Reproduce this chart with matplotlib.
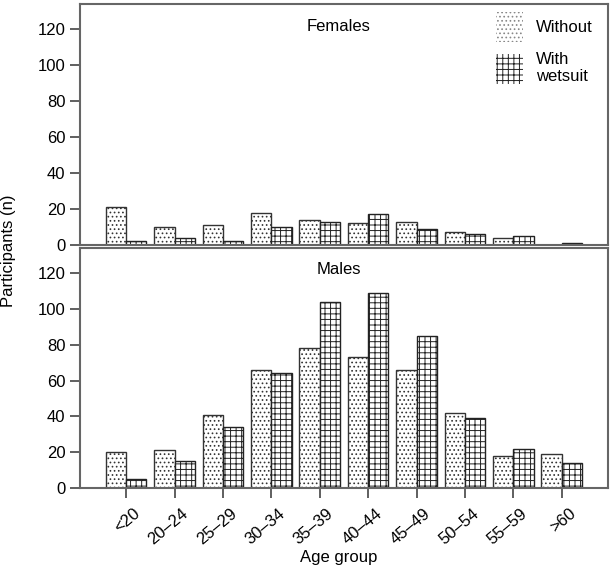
import matplotlib.pyplot as plt
import matplotlib.patches as mpatches
import matplotlib.transforms as mtransforms
import numpy as np

plt.rcParams['font.family'] = ['Liberation Sans', 'DejaVu Sans']
plt.rcParams['hatch.linewidth'] = 0.7

age_groups = ["<20", "20\u201324", "25\u201329", "30\u201334", "35\u201339",
              "40\u201344", "45\u201349", "50\u201354", "55\u201359", ">60"]

females_without = [21, 10, 11, 18, 14, 12, 13, 7, 4, 0]
females_with = [2, 4, 2, 10, 13, 17, 9, 6, 5, 1]
males_without = [20, 21, 41, 66, 78, 73, 66, 42, 18, 19]
males_with = [5, 15, 34, 64, 104, 109, 85, 39, 22, 14]

x = np.arange(len(age_groups))
w = 0.42

fig = plt.figure(figsize=(6.12, 5.69), dpi=100)
ax_top = fig.add_axes([0.131, 0.5694, 0.862, 0.4236])
ax_bot = fig.add_axes([0.131, 0.1424, 0.862, 0.4218])

def draw(ax, without, with_ws):
    ax.bar(x - w / 2, without, w, facecolor='white', edgecolor='#333333',
           hatch='....', linewidth=1.0)
    ax.bar(x + w / 2, with_ws, w, facecolor='white', edgecolor='#222222',
           hatch='+++', linewidth=1.0)
    ax.set_xlim(-0.95, 9.95)
    ax.set_ylim(0, 134)
    ax.set_yticks(range(0, 121, 20))
    ax.tick_params(axis='y', direction='out', length=7, width=1.2,
                   labelsize=12, color='#444444')
    for s in ax.spines.values():
        s.set_color('#666666')
        s.set_linewidth(1.5)

draw(ax_top, females_without, females_with)
draw(ax_bot, males_without, males_with)

ax_top.set_xticks([])
ax_top.text(0.49, 0.905, "Females", transform=ax_top.transAxes,
            ha='center', va='center', fontsize=12)
ax_bot.text(0.49, 0.91, "Males", transform=ax_bot.transAxes,
            ha='center', va='center', fontsize=12)

ax_bot.set_xticks(x)
ax_bot.set_xticklabels(age_groups, rotation=40, ha='right',
                       rotation_mode='anchor', fontsize=12)
ax_bot.tick_params(axis='x', direction='out', length=7, width=1.2,
                   color='#444444', pad=6)
shift = mtransforms.ScaledTranslation(5 / 72, 0, fig.dpi_scale_trans)
for lbl in ax_bot.get_xticklabels():
    lbl.set_transform(lbl.get_transform() + shift)
ax_bot.set_xlabel("Age group", fontsize=12, va='center')
ax_bot.xaxis.set_label_coords(0.49, -0.29)

fig.text(0.014, 0.56, "Participants (n)", rotation=90, ha='center',
         va='center', fontsize=12)

handles = [
    mpatches.Patch(facecolor='white', edgecolor='#888888', hatch='....',
                   linewidth=0, label='Without'),
    mpatches.Patch(facecolor='white', edgecolor='#222222', hatch='+++',
                   linewidth=0, label='With\nwetsuit'),
]
ax_top.legend(handles=handles, loc='upper right', frameon=False,
              fontsize=12, handlelength=1.6, handleheight=2.4,
              labelspacing=0.6, bbox_to_anchor=(1.0, 1.03))

fig.savefig("out.png", dpi=100)
